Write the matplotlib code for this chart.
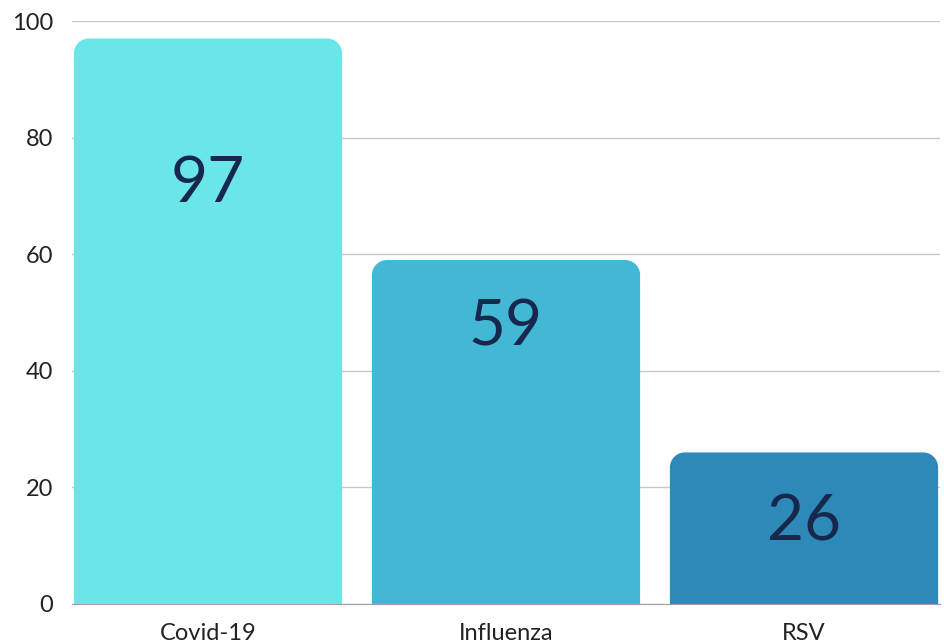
import matplotlib
matplotlib.use("Agg")
import matplotlib.pyplot as plt
from matplotlib.path import Path
from matplotlib.patches import PathPatch

categories = ["Covid-19", "Influenza", "RSV"]
values = [97, 59, 26]
colors = ["#6AE5E8", "#42B7D6", "#2D8AB8"]
label_y = [72, 47.5, 14]
yticks = [0, 20, 40, 60, 80, 100]

plt.rcParams['font.family'] = ['Lato', 'DejaVu Sans']

fig = plt.figure(figsize=(9.45, 6.44), dpi=100)
ax = fig.add_axes([72.4/945, 1-604/644, 867.2/945, 583/644])

bars = ax.bar(range(len(categories)), values, width=0.9, color=colors, zorder=2)
ax.set_xlim(-0.455, 2.455)
ax.set_ylim(0, 100)

# convert bars to rounded-top shapes
fig.canvas.draw()
px_x = ax.transData.transform((1, 0))[0] - ax.transData.transform((0, 0))[0]
px_y = ax.transData.transform((0, 1))[1] - ax.transData.transform((0, 0))[1]
r = 15
rx, ry = r / px_x, r / px_y
k = 0.5523
for rect in list(bars):
    x0, y0 = rect.get_x(), rect.get_y()
    w, h = rect.get_width(), rect.get_height()
    x1, y1 = x0 + w, y0 + h
    verts = [
        (x0, y0), (x0, y1 - ry),
        (x0, y1 - ry + k*ry), (x0 + rx - k*rx, y1), (x0 + rx, y1),
        (x1 - rx, y1),
        (x1 - rx + k*rx, y1), (x1, y1 - ry + k*ry), (x1, y1 - ry),
        (x1, y0), (x0, y0)]
    codes = [Path.MOVETO, Path.LINETO,
             Path.CURVE4, Path.CURVE4, Path.CURVE4,
             Path.LINETO,
             Path.CURVE4, Path.CURVE4, Path.CURVE4,
             Path.LINETO, Path.CLOSEPOLY]
    patch = PathPatch(Path(verts, codes), facecolor=rect.get_facecolor(),
                      edgecolor='none', zorder=2)
    ax.add_patch(patch)
    rect.set_visible(False)

for i, (v, ly) in enumerate(zip(values, label_y)):
    ax.text(i, ly, str(v), ha='center', va='center', fontsize=46,
            fontweight='normal', color='#16294D', zorder=3)

ax.set_yticks(yticks)
ax.set_xticks(range(len(categories)))
ax.set_xticklabels(categories)
ax.tick_params(axis='y', length=0, pad=14, labelsize=17, labelcolor='#222222')
ax.tick_params(axis='x', length=0, pad=14, labelsize=17, labelcolor='#222222')
ax.grid(axis='y', color='#C8C8C8', linewidth=1, zorder=0)
for s in ['top', 'right', 'left']:
    ax.spines[s].set_visible(False)
ax.spines['bottom'].set_color('#A0A0A0')
ax.spines['bottom'].set_zorder(1)

fig.savefig("out.png", dpi=100)
